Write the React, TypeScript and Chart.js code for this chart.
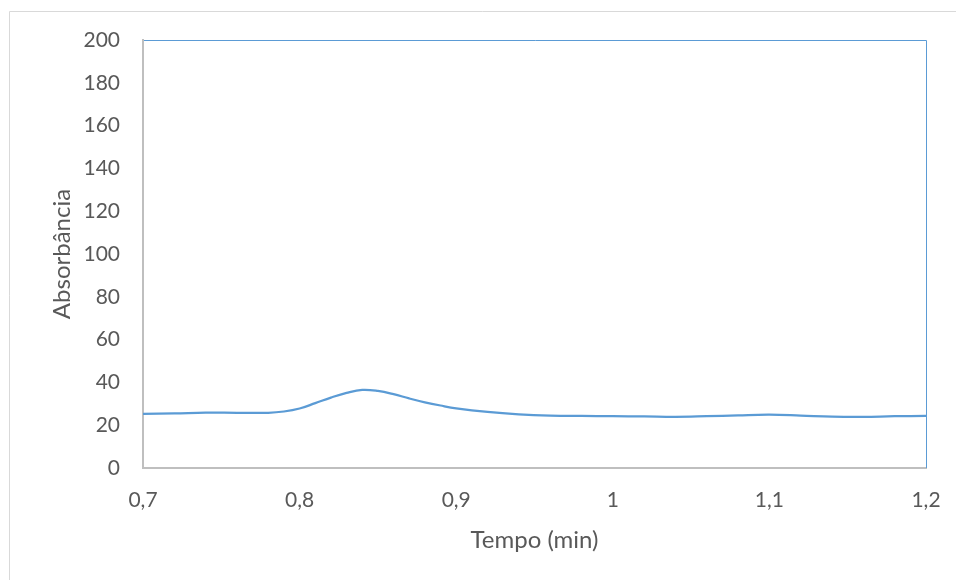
import React, { useEffect, useRef } from "react";
import { Chart, registerables } from "chart.js";

Chart.register(...registerables);

const timeMin: number[] = [
  0.7, 0.72, 0.74, 0.76, 0.78, 0.79, 0.8, 0.81, 0.82, 0.83, 0.84, 0.85, 0.86, 0.87, 0.88, 0.89, 0.9,
  0.92, 0.94, 0.96, 0.98, 1.0, 1.02, 1.04, 1.06, 1.08, 1.1, 1.12, 1.14, 1.16, 1.18, 1.2,
];
const absorbance: number[] = [
  25.3, 25.5, 25.9, 25.8, 25.8, 26.4, 27.8, 30.3, 32.9, 35.1, 36.5, 36.0, 34.5, 32.5, 30.7, 29.2, 27.9,
  26.2, 25.1, 24.5, 24.3, 24.2, 24.1, 23.9, 24.2, 24.6, 24.9, 24.5, 24.0, 23.9, 24.2, 24.3,
];
const xAxisTitle = "Tempo (min)";
const yAxisTitle = "Absorbância";

const FONT = "Lato";
const TEXT = "#595959";

const framePlugin = {
  id: "frame",
  beforeDraw(chart: any) {
    const ctx = chart.ctx;
    ctx.save();
    ctx.strokeStyle = "#d9d9d9";
    ctx.lineWidth = 1;
    ctx.beginPath();
    ctx.moveTo(9.5, chart.height);
    ctx.lineTo(9.5, 11.5);
    ctx.lineTo(chart.width, 11.5);
    ctx.stroke();
    ctx.restore();
  },
  afterDraw(chart: any) {
    const { ctx, chartArea } = chart;
    ctx.save();
    ctx.strokeStyle = "#5b9bd5";
    ctx.lineWidth = 1;
    ctx.beginPath();
    ctx.moveTo(chartArea.left + 1, chartArea.top + 0.5);
    ctx.lineTo(chartArea.right + 0.5, chartArea.top + 0.5);
    ctx.lineTo(chartArea.right + 0.5, chartArea.bottom);
    ctx.stroke();
    ctx.restore();
  },
};

export default function App() {
  const ref = useRef<HTMLCanvasElement | null>(null);
  useEffect(() => {
    if (!ref.current) return;
    const chart = new Chart(ref.current, {
      type: "line",
      data: {
        datasets: [
          {
            data: timeMin.map((x, i) => ({ x, y: absorbance[i] })),
            borderColor: "#5b9bd5",
            borderWidth: 2.25,
            pointRadius: 0,
            tension: 0.4,
            fill: false,
          },
        ],
      },
      options: {
        animation: false,
        responsive: false,
        layout: { padding: { left: 0, top: 40, right: 30, bottom: 0 } },
        plugins: { legend: { display: false }, tooltip: { enabled: false } },
        scales: {
          x: {
            type: "linear",
            min: 0.7,
            max: 1.2,
            grid: { display: false, drawTicks: false },
            border: { display: true, color: "#bfbfbf", width: 2 },
            ticks: {
              stepSize: 0.1,
              padding: 20,
              color: TEXT,
              font: { family: FONT, size: 21 },
              maxRotation: 0,
              callback: (v: any) => Number(Number(v).toFixed(1)).toString().replace(".", ","),
            },
            title: {
              display: true,
              text: xAxisTitle,
              color: TEXT,
              font: { family: FONT, size: 24 },
              padding: { top: 25.6, bottom: 25.6 },
            },
            afterFit: (s: any) => {
              s.height = 112;
              s.paddingLeft = 0;
              s.paddingRight = 0;
            },
          },
          y: {
            min: 0,
            max: 200,
            grid: { display: false, drawTicks: false },
            border: { display: true, color: "#bfbfbf", width: 2 },
            ticks: {
              stepSize: 20,
              padding: 23,
              color: TEXT,
              font: { family: FONT, size: 21 },
            },
            title: {
              display: true,
              text: yAxisTitle,
              color: TEXT,
              font: { family: FONT, size: 24 },
              padding: { top: 47.6, bottom: 47.6 },
            },
            afterFit: (s: any) => {
              s.width = 143;
              s.paddingTop = 0;
              s.paddingBottom = 0;
            },
          },
        },
      },
      plugins: [framePlugin],
    });
    return () => chart.destroy();
  }, []);
  return (
    <div style={{ position: "absolute", left: 0, top: 0, width: 956, height: 580, background: "#fff" }}>
      <canvas ref={ref} width={956} height={580} style={{ display: "block" }} />
    </div>
  );
}
